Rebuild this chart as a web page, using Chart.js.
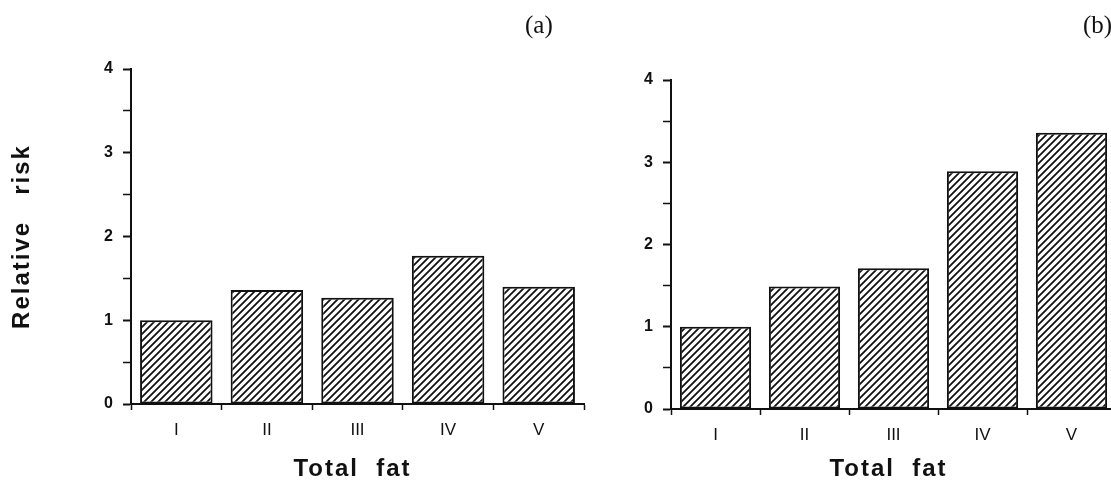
<!DOCTYPE html>
<html>
<head>
<meta charset="utf-8">
<script src="https://cdn.jsdelivr.net/npm/chart.js@4/dist/chart.umd.min.js"></script>
<style>
  html, body { margin: 0; padding: 0; background: #fff; overflow: hidden; }
  #wrap { position: relative; width: 1111px; height: 483px; overflow: hidden; }
  canvas { position: absolute; top: 0; }
  .tag { position: absolute; font-family: "Liberation Serif", "DejaVu Serif", serif; font-size: 25px; color: #111; line-height: 1.15; }
</style>
</head>
<body>
<div id="wrap">
  <canvas id="chartA" width="600" height="483" style="left:0"></canvas>
  <canvas id="chartB" width="530" height="483" style="left:600px"></canvas>
  <div class="tag" style="left:525px;top:11px">(a)</div>
  <div class="tag" style="left:1083px;top:11px">(b)</div>
</div>
<script>
'use strict';

const categories = ['I', 'II', 'III', 'IV', 'V'];
const riskA = [1.0, 1.36, 1.27, 1.77, 1.40];
const riskB = [1.0, 1.49, 1.71, 2.89, 3.36];
const yTicks = [0, 1, 2, 3, 4];

const INK = '#111';
const SANS = '"Liberation Sans", Arial, sans-serif';
const TITLE_FONT = 'bold 24px ' + SANS;

function makeHatch() {
  const size = 7;
  const tile = document.createElement('canvas');
  tile.width = size;
  tile.height = size;
  const ctx = tile.getContext('2d');
  ctx.fillStyle = '#fff';
  ctx.fillRect(0, 0, size, size);
  ctx.strokeStyle = INK;
  ctx.lineWidth = 1.8;
  ctx.beginPath();
  ctx.moveTo(0, size); ctx.lineTo(size, 0);
  ctx.moveTo(-1, 1); ctx.lineTo(1, -1);
  ctx.moveTo(size - 1, size + 1); ctx.lineTo(size + 1, size - 1);
  ctx.stroke();
  return ctx.createPattern(tile, 'repeat');
}

// axis titles drawn by hand: the scan uses spaced-out lettering,
// which the built-in scale titles can't do
const spacedTitles = {
  id: 'spacedTitles',
  afterDraw(chart, _args, opts) {
    const { ctx, chartArea } = chart;
    ctx.save();
    ctx.font = TITLE_FONT;
    ctx.fillStyle = INK;
    ctx.letterSpacing = '2px';
    ctx.textAlign = 'center';
    ctx.textBaseline = 'middle';
    ctx.fillText(opts.xText, (chartArea.left + chartArea.right) / 2 - 5, opts.xTitleY);
    if (opts.yText) {
      ctx.translate(opts.yTitleX, (chartArea.top + chartArea.bottom) / 2);
      ctx.rotate(-Math.PI / 2);
      ctx.fillText(opts.yText, 0, 0);
    }
    ctx.restore();
  }
};

// each panel: fixed axis sizes so the plot area lands where the scan has it
function buildPanel(id, values, box) {
  const hatch = makeHatch();
  return new Chart(document.getElementById(id), {
    type: 'bar',
    data: {
      labels: categories,
      datasets: [{
        data: values,
        backgroundColor: hatch,
        borderColor: INK,
        borderWidth: 2,
        borderSkipped: false,
        barPercentage: 0.8,
        categoryPercentage: 1.0
      }]
    },
    plugins: [spacedTitles],
    options: {
      responsive: false,
      animation: false,
      layout: { padding: { top: box.top, right: box.right, left: 0, bottom: 0 } },
      plugins: {
        legend: { display: false },
        tooltip: { enabled: false },
        spacedTitles: {
          xText: 'Total  fat',
          xTitleY: 469,
          yText: box.yTitle ? 'Relative   risk' : '',
          yTitleX: 22
        }
      },
      scales: {
        x: {
          grid: { drawOnChartArea: false, offset: true, tickLength: 6, tickColor: INK, tickWidth: 1.5 },
          border: { display: true, color: INK, width: 2 },
          ticks: { color: INK, padding: 10, font: { family: SANS, size: 17 } },
          afterFit: scale => { scale.height = box.xHeight; }
        },
        y: {
          min: 0,
          max: 4,
          grid: {
            drawOnChartArea: false,
            tickLength: 8,
            tickColor: INK,
            tickWidth: ctx => (yTicks.includes(ctx.tick.value) ? 2 : 1.5)
          },
          border: { display: true, color: INK, width: 2 },
          ticks: {
            stepSize: 0.5,
            color: INK,
            padding: 10,
            font: { family: SANS, size: 16, weight: 'bold' },
            callback: v => (yTicks.includes(v) ? String(v) : '')
          },
          afterFit: scale => { scale.width = box.yWidth; }
        }
      }
    }
  });
}

buildPanel('chartA', riskA, { top: 69, right: 16, xHeight: 79, yWidth: 131, yTitle: true });
buildPanel('chartB', riskB, { top: 80, right: 14, xHeight: 74, yWidth: 71, yTitle: false });
</script>
</body>
</html>
